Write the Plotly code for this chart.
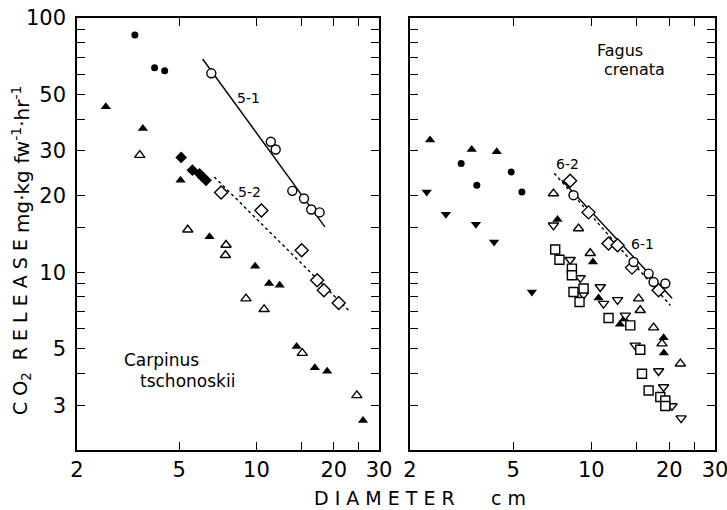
import numpy as np
import plotly.graph_objects as go

# ---------------- Carpinus tschonoskii (left panel) ----------------
c_fcirc_d = [3.36, 4.01, 4.39]
c_fcirc_r = [85.7, 63.7, 62.0]

c_ftri_d = [2.59, 3.61, 5.06, 6.56, 9.88, 11.2, 12.31, 14.34, 16.88, 18.85, 26.0]
c_ftri_r = [44.8, 36.8, 23.0, 13.8, 10.55, 9.03, 8.89, 5.11, 4.21, 4.08, 2.61]

c_otri_d = [3.51, 5.40, 7.61, 7.57, 9.10, 10.71, 15.08, 24.6]
c_otri_r = [28.9, 14.7, 12.8, 11.67, 7.88, 7.15, 4.81, 3.28]

c_fdia_d = [5.09, 5.63, 6.00, 6.17, 6.36]
c_fdia_r = [28.3, 25.2, 24.4, 23.7, 23.0]

c_ocirc_d = [6.67, 11.37, 11.88, 13.79, 15.31, 16.34, 17.61]
c_ocirc_r = [60.6, 32.6, 30.4, 20.9, 19.5, 17.65, 17.2]

c_odia_d = [7.28, 10.45, 15.0, 17.23, 18.3, 20.9]
c_odia_r = [20.6, 17.5, 12.2, 9.30, 8.49, 7.57]

# regression lines 5-1 (solid) and 5-2 (dotted): end points
line51_d = [6.17, 18.46]
line51_r = [69.0, 15.08]
line52_d = [6.85, 23.2]
line52_r = [23.7, 6.98]

# ---------------- Fagus crenata (right panel) ----------------
f_ftri_d = [2.39, 3.46, 4.32, 7.41, 10.15, 10.67, 12.9, 13.4, 19.01, 19.05]
f_ftri_r = [33.1, 30.4, 29.8, 16.13, 10.98, 7.92, 6.25, 6.55, 5.53, 4.81]

f_fcirc_d = [3.15, 4.91, 3.62, 5.40]
f_fcirc_r = [26.8, 24.8, 22.0, 20.7]

f_finv_d = [2.32, 2.75, 3.59, 4.22, 5.90]
f_finv_r = [20.7, 16.9, 15.45, 13.16, 8.36]

f_otri_d = [7.15, 8.93, 9.91, 15.22, 15.45, 17.39, 18.74, 22.06]
f_otri_r = [20.4, 14.86, 11.88, 7.88, 7.09, 6.06, 5.24, 4.37]

f_oinv_d = [7.15, 8.29, 9.07, 9.34, 10.83, 11.15, 12.63, 13.53, 14.78, 18.18, 19.01, 20.48, 22.2]
f_oinv_r = [15.3, 11.2, 9.50, 8.17, 8.75, 7.53, 7.79, 6.77, 5.16, 4.09, 3.54, 2.98, 2.67]

f_osq_d = [7.26, 7.54, 8.42, 8.42, 8.54, 9.01, 9.34, 11.66, 14.14, 15.45, 15.69, 16.64, 18.46, 19.3, 19.3]
f_osq_r = [12.29, 11.2, 10.34, 9.73, 8.36, 7.64, 8.63, 6.61, 6.18, 4.96, 3.99, 3.43, 3.23, 3.13, 2.98]

f_odia_d = [8.29, 9.76, 11.66, 12.63, 14.36, 18.18]
f_odia_r = [22.9, 17.2, 12.97, 12.77, 10.43, 8.49]

f_ocirc_d = [8.54, 14.56, 16.64, 17.39, 19.3]
f_ocirc_r = [20.1, 10.98, 9.88, 9.16, 9.03]

# regression lines 6-1 (solid) and 6-2 (dotted)
line61_d = [7.7, 20.5]
line61_r = [23.0, 7.9]
line62_d = [7.2, 20.2]
line62_r = [24.5, 7.4]

# axis ticks: labelled (major) and unlabelled (minor)
x_major = [2, 5, 10, 20, 30]
x_minor = [15, 25]
y_major = [3, 5, 10, 20, 30, 50, 100]
y_minor = [4, 6, 7, 8, 9, 15, 40, 60, 70, 80, 90]

FONT = "DejaVu Sans"
fig = go.Figure()


def line(d, r, dash, xa, ya):
    fig.add_trace(go.Scatter(x=d, y=r, mode="lines", xaxis=xa, yaxis=ya,
                             line=dict(color="black", width=1.4, dash=dash),
                             showlegend=False, hoverinfo="skip"))


def pts(d, r, symbol, filled, size, xa, ya):
    fig.add_trace(go.Scatter(
        x=d, y=r, mode="markers", xaxis=xa, yaxis=ya, showlegend=False,
        cliponaxis=False,
        marker=dict(symbol=symbol, size=size,
                    color="black" if filled else "white",
                    line=dict(color="black", width=0 if filled else 1.4))))


# left panel
line(line51_d, line51_r, "solid", "x", "y")
line(line52_d, line52_r, "dot", "x", "y")
pts(c_fcirc_d, c_fcirc_r, "circle", True, 7, "x", "y")
pts(c_ftri_d, c_ftri_r, "triangle-up", True, 9, "x", "y")
pts(c_otri_d, c_otri_r, "triangle-up", False, 9, "x", "y")
pts(c_fdia_d, c_fdia_r, "diamond", True, 9, "x", "y")
pts(c_ocirc_d, c_ocirc_r, "circle", False, 9, "x", "y")
pts(c_odia_d, c_odia_r, "diamond", False, 10, "x", "y")

# right panel
line(line61_d, line61_r, "solid", "x2", "y2")
line(line62_d, line62_r, "dot", "x2", "y2")
pts(f_ftri_d, f_ftri_r, "triangle-up", True, 9, "x2", "y2")
pts(f_fcirc_d, f_fcirc_r, "circle", True, 7, "x2", "y2")
pts(f_finv_d, f_finv_r, "triangle-down", True, 9, "x2", "y2")
pts(f_otri_d, f_otri_r, "triangle-up", False, 9, "x2", "y2")
pts(f_oinv_d, f_oinv_r, "triangle-down", False, 9, "x2", "y2")
pts(f_osq_d, f_osq_r, "square", False, 9, "x2", "y2")
pts(f_odia_d, f_odia_r, "diamond", False, 10, "x2", "y2")
pts(f_ocirc_d, f_ocirc_r, "circle", False, 9, "x2", "y2")

tick_style = dict(ticks="inside", ticklen=8, tickwidth=1.4, tickcolor="black")
axis_style = dict(showline=True, linecolor="black", linewidth=1.6, mirror="ticks",
                  showgrid=False, zeroline=False, automargin=False,
                  ticklabeloverflow="allow",
                  tickfont=dict(family=FONT, size=21, color="black"),
                  **tick_style)

common_x = dict(axis_style, type="log", range=[np.log10(2), np.log10(30)],
                tickmode="array", tickvals=x_major,
                ticktext=[str(v) for v in x_major],
                minor=dict(tickmode="array", tickvals=x_minor, **tick_style),
                ticklabelstandoff=0)
common_y = dict(axis_style, type="log", range=[np.log10(2), 2],
                tickmode="array", tickvals=y_major,
                ticktext=[str(v) for v in y_major],
                minor=dict(tickmode="array", tickvals=y_minor, **tick_style),
                ticklabelstandoff=5)

W, H = 727, 510
L, R, T, B = 77, 12, 18, 60
pw = W - L - R
ph = H - T - B

fig.update_layout(
    width=W, height=H,
    margin=dict(l=L, r=R, t=T, b=B),
    paper_bgcolor="white", plot_bgcolor="white",
    xaxis=dict(common_x, domain=[0, (379 - L) / pw], anchor="y"),
    xaxis2=dict(common_x, domain=[(410 - L) / pw, 1], anchor="y2"),
    yaxis=dict(common_y, domain=[0, 1], anchor="x"),
    yaxis2=dict(common_y, domain=[0, 1], anchor="x2", showticklabels=False),
)

nb = "\u00a0"


def spaced(s):
    return nb.join(s)


txt = dict(family=FONT, color="black")


def label(x, y, xa, ya, text, size, xanchor="center"):
    return dict(x=np.log10(x), y=np.log10(y), xref=xa, yref=ya, text=text,
                xanchor=xanchor, yanchor="middle", showarrow=False,
                font=dict(txt, size=size))


ann = [
    label(9.28, 48.4, "x", "y", "5-1", 14),
    label(9.4, 20.65, "x", "y", "5-2", 14),
    label(8.07, 26.6, "x2", "y2", "6-2", 14),
    label(15.73, 12.9, "x2", "y2", "6-1", 14),
    label(2.99, 4.50, "x", "y", "Carpinus", 17, "left"),
    label(3.45, 3.72, "x", "y", "tschonoskii", 17, "left"),
    label(10.36, 74.5, "x2", "y2", "Fagus", 16, "left"),
    label(11.02, 63.0, "x2", "y2", "crenata", 16, "left"),
]


def page_text(px, py, text, size, angle=0):
    return dict(x=(px - L) / pw, y=(H - B - py) / ph, xref="paper", yref="paper",
                xanchor="center", yanchor="middle", text=text, textangle=angle,
                showarrow=False, font=dict(txt, size=size))


# axis titles
ann.append(page_text(21, 327, "C" + nb + "O<sub>2</sub>" + nb * 2 + spaced("RELEASE"), 19, -90))
ann.append(page_text(21, 160, "mg·kg" + nb + "fw<sup>-1</sup>·hr<sup>-1</sup>", 20, -90))
ann.append(page_text(419.5, 498, spaced("DIAMETER") + nb * 6 + "c" + nb + "m", 19))

fig.update_layout(annotations=ann)
fig.write_html("out.html")
